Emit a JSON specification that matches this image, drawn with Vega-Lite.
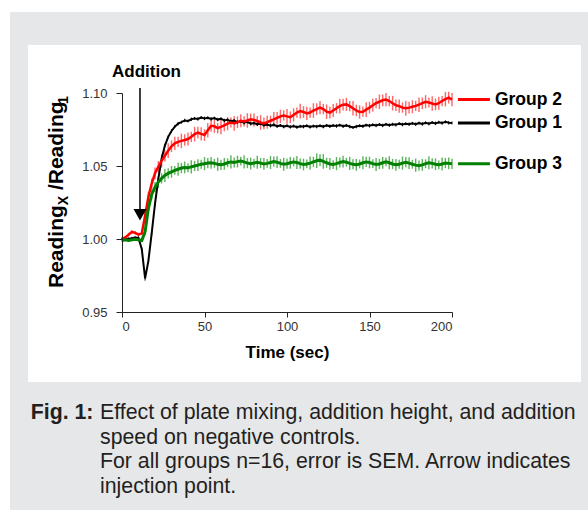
{
"$schema": "https://vega.github.io/schema/vega-lite/v6.json",
"width": 330, "height": 219, "autosize": "none",
"padding": {"left": 122, "top": 93, "right": 136, "bottom": 198},
"background": "white",
"config": {"view": {"stroke": null}, "font": "Liberation Sans"},
"datasets": {"series": [
{"t":0,"g":"Group 1","v":1.0000,"e":0.0008},{"t":2,"g":"Group 1","v":0.9998,"e":0.0010},{"t":4,"g":"Group 1","v":1.0002,"e":0.0008},{"t":6,"g":"Group 1","v":1.0005,"e":0.0010},{"t":8,"g":"Group 1","v":1.0010,"e":0.0008},{"t":10,"g":"Group 1","v":1.0008,"e":0.0010},{"t":12,"g":"Group 1","v":0.9930,"e":0.0012},{"t":14,"g":"Group 1","v":0.9730,"e":0.0015},{"t":16,"g":"Group 1","v":0.9850,"e":0.0015},{"t":18,"g":"Group 1","v":1.0040,"e":0.0015},{"t":20,"g":"Group 1","v":1.0240,"e":0.0015},{"t":22,"g":"Group 1","v":1.0410,"e":0.0012},{"t":24,"g":"Group 1","v":1.0550,"e":0.0012},{"t":26,"g":"Group 1","v":1.0640,"e":0.0012},{"t":28,"g":"Group 1","v":1.0700,"e":0.0010},{"t":30,"g":"Group 1","v":1.0740,"e":0.0012},{"t":32,"g":"Group 1","v":1.0770,"e":0.0010},{"t":34,"g":"Group 1","v":1.0790,"e":0.0012},{"t":36,"g":"Group 1","v":1.0800,"e":0.0010},{"t":38,"g":"Group 1","v":1.0812,"e":0.0012},{"t":40,"g":"Group 1","v":1.0808,"e":0.0010},{"t":42,"g":"Group 1","v":1.0820,"e":0.0012},{"t":44,"g":"Group 1","v":1.0826,"e":0.0010},{"t":46,"g":"Group 1","v":1.0822,"e":0.0012},{"t":48,"g":"Group 1","v":1.0832,"e":0.0010},{"t":50,"g":"Group 1","v":1.0826,"e":0.0012},{"t":52,"g":"Group 1","v":1.0830,"e":0.0010},{"t":54,"g":"Group 1","v":1.0822,"e":0.0012},{"t":56,"g":"Group 1","v":1.0828,"e":0.0010},{"t":58,"g":"Group 1","v":1.0818,"e":0.0012},{"t":60,"g":"Group 1","v":1.0824,"e":0.0010},{"t":62,"g":"Group 1","v":1.0812,"e":0.0012},{"t":64,"g":"Group 1","v":1.0816,"e":0.0010},{"t":66,"g":"Group 1","v":1.0806,"e":0.0012},{"t":68,"g":"Group 1","v":1.0812,"e":0.0010},{"t":70,"g":"Group 1","v":1.0800,"e":0.0012},{"t":72,"g":"Group 1","v":1.0806,"e":0.0010},{"t":74,"g":"Group 1","v":1.0796,"e":0.0012},{"t":76,"g":"Group 1","v":1.0802,"e":0.0010},{"t":78,"g":"Group 1","v":1.0790,"e":0.0012},{"t":80,"g":"Group 1","v":1.0794,"e":0.0010},{"t":82,"g":"Group 1","v":1.0786,"e":0.0012},{"t":84,"g":"Group 1","v":1.0790,"e":0.0010},{"t":86,"g":"Group 1","v":1.0780,"e":0.0012},{"t":88,"g":"Group 1","v":1.0784,"e":0.0010},{"t":90,"g":"Group 1","v":1.0776,"e":0.0012},{"t":92,"g":"Group 1","v":1.0782,"e":0.0010},{"t":94,"g":"Group 1","v":1.0772,"e":0.0012},{"t":96,"g":"Group 1","v":1.0778,"e":0.0010},{"t":98,"g":"Group 1","v":1.0770,"e":0.0012},{"t":100,"g":"Group 1","v":1.0776,"e":0.0010},{"t":102,"g":"Group 1","v":1.0768,"e":0.0012},{"t":104,"g":"Group 1","v":1.0774,"e":0.0010},{"t":106,"g":"Group 1","v":1.0766,"e":0.0012},{"t":108,"g":"Group 1","v":1.0772,"e":0.0010},{"t":110,"g":"Group 1","v":1.0770,"e":0.0012},{"t":112,"g":"Group 1","v":1.0776,"e":0.0010},{"t":114,"g":"Group 1","v":1.0768,"e":0.0012},{"t":116,"g":"Group 1","v":1.0774,"e":0.0010},{"t":118,"g":"Group 1","v":1.0770,"e":0.0012},{"t":120,"g":"Group 1","v":1.0776,"e":0.0010},{"t":122,"g":"Group 1","v":1.0770,"e":0.0012},{"t":124,"g":"Group 1","v":1.0778,"e":0.0010},{"t":126,"g":"Group 1","v":1.0772,"e":0.0012},{"t":128,"g":"Group 1","v":1.0778,"e":0.0010},{"t":130,"g":"Group 1","v":1.0774,"e":0.0012},{"t":132,"g":"Group 1","v":1.0780,"e":0.0010},{"t":134,"g":"Group 1","v":1.0772,"e":0.0012},{"t":136,"g":"Group 1","v":1.0778,"e":0.0010},{"t":138,"g":"Group 1","v":1.0770,"e":0.0012},{"t":140,"g":"Group 1","v":1.0764,"e":0.0010},{"t":142,"g":"Group 1","v":1.0770,"e":0.0012},{"t":144,"g":"Group 1","v":1.0776,"e":0.0010},{"t":146,"g":"Group 1","v":1.0772,"e":0.0012},{"t":148,"g":"Group 1","v":1.0780,"e":0.0010},{"t":150,"g":"Group 1","v":1.0776,"e":0.0012},{"t":152,"g":"Group 1","v":1.0782,"e":0.0010},{"t":154,"g":"Group 1","v":1.0778,"e":0.0012},{"t":156,"g":"Group 1","v":1.0784,"e":0.0010},{"t":158,"g":"Group 1","v":1.0778,"e":0.0012},{"t":160,"g":"Group 1","v":1.0786,"e":0.0010},{"t":162,"g":"Group 1","v":1.0780,"e":0.0012},{"t":164,"g":"Group 1","v":1.0786,"e":0.0010},{"t":166,"g":"Group 1","v":1.0782,"e":0.0012},{"t":168,"g":"Group 1","v":1.0790,"e":0.0010},{"t":170,"g":"Group 1","v":1.0784,"e":0.0012},{"t":172,"g":"Group 1","v":1.0790,"e":0.0010},{"t":174,"g":"Group 1","v":1.0786,"e":0.0012},{"t":176,"g":"Group 1","v":1.0792,"e":0.0010},{"t":178,"g":"Group 1","v":1.0786,"e":0.0012},{"t":180,"g":"Group 1","v":1.0794,"e":0.0010},{"t":182,"g":"Group 1","v":1.0788,"e":0.0012},{"t":184,"g":"Group 1","v":1.0796,"e":0.0010},{"t":186,"g":"Group 1","v":1.0790,"e":0.0012},{"t":188,"g":"Group 1","v":1.0798,"e":0.0010},{"t":190,"g":"Group 1","v":1.0792,"e":0.0012},{"t":192,"g":"Group 1","v":1.0800,"e":0.0010},{"t":194,"g":"Group 1","v":1.0794,"e":0.0012},{"t":196,"g":"Group 1","v":1.0802,"e":0.0010},{"t":198,"g":"Group 1","v":1.0796,"e":0.0012},{"t":200,"g":"Group 1","v":1.0795,"e":0.0010},
{"t":0,"g":"Group 2","v":1.0002,"e":0.0008},{"t":2,"g":"Group 2","v":1.0010,"e":0.0010},{"t":4,"g":"Group 2","v":1.0030,"e":0.0012},{"t":6,"g":"Group 2","v":1.0048,"e":0.0012},{"t":8,"g":"Group 2","v":1.0042,"e":0.0012},{"t":10,"g":"Group 2","v":1.0030,"e":0.0012},{"t":12,"g":"Group 2","v":1.0040,"e":0.0015},{"t":14,"g":"Group 2","v":1.0160,"e":0.0030},{"t":16,"g":"Group 2","v":1.0290,"e":0.0035},{"t":18,"g":"Group 2","v":1.0380,"e":0.0035},{"t":20,"g":"Group 2","v":1.0450,"e":0.0040},{"t":22,"g":"Group 2","v":1.0495,"e":0.0040},{"t":24,"g":"Group 2","v":1.0535,"e":0.0045},{"t":26,"g":"Group 2","v":1.0570,"e":0.0040},{"t":28,"g":"Group 2","v":1.0605,"e":0.0050},{"t":30,"g":"Group 2","v":1.0635,"e":0.0040},{"t":32,"g":"Group 2","v":1.0655,"e":0.0045},{"t":34,"g":"Group 2","v":1.0665,"e":0.0035},{"t":36,"g":"Group 2","v":1.0672,"e":0.0050},{"t":38,"g":"Group 2","v":1.0678,"e":0.0040},{"t":40,"g":"Group 2","v":1.0685,"e":0.0045},{"t":42,"g":"Group 2","v":1.0700,"e":0.0035},{"t":44,"g":"Group 2","v":1.0718,"e":0.0050},{"t":46,"g":"Group 2","v":1.0728,"e":0.0040},{"t":48,"g":"Group 2","v":1.0720,"e":0.0045},{"t":50,"g":"Group 2","v":1.0712,"e":0.0040},{"t":52,"g":"Group 2","v":1.0745,"e":0.0050},{"t":54,"g":"Group 2","v":1.0775,"e":0.0040},{"t":56,"g":"Group 2","v":1.0772,"e":0.0045},{"t":58,"g":"Group 2","v":1.0760,"e":0.0035},{"t":60,"g":"Group 2","v":1.0768,"e":0.0050},{"t":62,"g":"Group 2","v":1.0778,"e":0.0040},{"t":64,"g":"Group 2","v":1.0790,"e":0.0045},{"t":66,"g":"Group 2","v":1.0798,"e":0.0035},{"t":68,"g":"Group 2","v":1.0792,"e":0.0050},{"t":70,"g":"Group 2","v":1.0800,"e":0.0040},{"t":72,"g":"Group 2","v":1.0810,"e":0.0045},{"t":74,"g":"Group 2","v":1.0805,"e":0.0035},{"t":76,"g":"Group 2","v":1.0812,"e":0.0050},{"t":78,"g":"Group 2","v":1.0820,"e":0.0040},{"t":80,"g":"Group 2","v":1.0815,"e":0.0045},{"t":82,"g":"Group 2","v":1.0808,"e":0.0035},{"t":84,"g":"Group 2","v":1.0798,"e":0.0050},{"t":86,"g":"Group 2","v":1.0792,"e":0.0040},{"t":88,"g":"Group 2","v":1.0800,"e":0.0045},{"t":90,"g":"Group 2","v":1.0810,"e":0.0035},{"t":92,"g":"Group 2","v":1.0820,"e":0.0050},{"t":94,"g":"Group 2","v":1.0830,"e":0.0040},{"t":96,"g":"Group 2","v":1.0840,"e":0.0045},{"t":98,"g":"Group 2","v":1.0846,"e":0.0035},{"t":100,"g":"Group 2","v":1.0840,"e":0.0050},{"t":102,"g":"Group 2","v":1.0834,"e":0.0040},{"t":104,"g":"Group 2","v":1.0850,"e":0.0045},{"t":106,"g":"Group 2","v":1.0866,"e":0.0035},{"t":108,"g":"Group 2","v":1.0876,"e":0.0050},{"t":110,"g":"Group 2","v":1.0870,"e":0.0040},{"t":112,"g":"Group 2","v":1.0860,"e":0.0045},{"t":114,"g":"Group 2","v":1.0866,"e":0.0035},{"t":116,"g":"Group 2","v":1.0880,"e":0.0050},{"t":118,"g":"Group 2","v":1.0890,"e":0.0040},{"t":120,"g":"Group 2","v":1.0900,"e":0.0045},{"t":122,"g":"Group 2","v":1.0890,"e":0.0035},{"t":124,"g":"Group 2","v":1.0872,"e":0.0050},{"t":126,"g":"Group 2","v":1.0866,"e":0.0040},{"t":128,"g":"Group 2","v":1.0880,"e":0.0045},{"t":130,"g":"Group 2","v":1.0896,"e":0.0035},{"t":132,"g":"Group 2","v":1.0910,"e":0.0050},{"t":134,"g":"Group 2","v":1.0920,"e":0.0040},{"t":136,"g":"Group 2","v":1.0922,"e":0.0045},{"t":138,"g":"Group 2","v":1.0910,"e":0.0035},{"t":140,"g":"Group 2","v":1.0896,"e":0.0050},{"t":142,"g":"Group 2","v":1.0880,"e":0.0040},{"t":144,"g":"Group 2","v":1.0870,"e":0.0045},{"t":146,"g":"Group 2","v":1.0872,"e":0.0035},{"t":148,"g":"Group 2","v":1.0886,"e":0.0050},{"t":150,"g":"Group 2","v":1.0900,"e":0.0040},{"t":152,"g":"Group 2","v":1.0916,"e":0.0045},{"t":154,"g":"Group 2","v":1.0930,"e":0.0035},{"t":156,"g":"Group 2","v":1.0940,"e":0.0050},{"t":158,"g":"Group 2","v":1.0950,"e":0.0040},{"t":160,"g":"Group 2","v":1.0955,"e":0.0045},{"t":162,"g":"Group 2","v":1.0945,"e":0.0035},{"t":164,"g":"Group 2","v":1.0930,"e":0.0050},{"t":166,"g":"Group 2","v":1.0916,"e":0.0040},{"t":168,"g":"Group 2","v":1.0910,"e":0.0045},{"t":170,"g":"Group 2","v":1.0900,"e":0.0035},{"t":172,"g":"Group 2","v":1.0895,"e":0.0050},{"t":174,"g":"Group 2","v":1.0900,"e":0.0040},{"t":176,"g":"Group 2","v":1.0906,"e":0.0045},{"t":178,"g":"Group 2","v":1.0912,"e":0.0035},{"t":180,"g":"Group 2","v":1.0920,"e":0.0050},{"t":182,"g":"Group 2","v":1.0930,"e":0.0040},{"t":184,"g":"Group 2","v":1.0940,"e":0.0045},{"t":186,"g":"Group 2","v":1.0935,"e":0.0035},{"t":188,"g":"Group 2","v":1.0928,"e":0.0050},{"t":190,"g":"Group 2","v":1.0922,"e":0.0040},{"t":192,"g":"Group 2","v":1.0930,"e":0.0045},{"t":194,"g":"Group 2","v":1.0945,"e":0.0035},{"t":196,"g":"Group 2","v":1.0958,"e":0.0050},{"t":198,"g":"Group 2","v":1.0968,"e":0.0040},{"t":200,"g":"Group 2","v":1.0955,"e":0.0045},
{"t":0,"g":"Group 3","v":0.9990,"e":0.0008},{"t":2,"g":"Group 3","v":0.9994,"e":0.0008},{"t":4,"g":"Group 3","v":0.9990,"e":0.0010},{"t":6,"g":"Group 3","v":0.9994,"e":0.0010},{"t":8,"g":"Group 3","v":0.9998,"e":0.0010},{"t":10,"g":"Group 3","v":0.9994,"e":0.0010},{"t":12,"g":"Group 3","v":0.9990,"e":0.0012},{"t":14,"g":"Group 3","v":1.0050,"e":0.0025},{"t":16,"g":"Group 3","v":1.0210,"e":0.0030},{"t":18,"g":"Group 3","v":1.0305,"e":0.0035},{"t":20,"g":"Group 3","v":1.0355,"e":0.0035},{"t":22,"g":"Group 3","v":1.0390,"e":0.0040},{"t":24,"g":"Group 3","v":1.0415,"e":0.0035},{"t":26,"g":"Group 3","v":1.0435,"e":0.0045},{"t":28,"g":"Group 3","v":1.0450,"e":0.0035},{"t":30,"g":"Group 3","v":1.0460,"e":0.0040},{"t":32,"g":"Group 3","v":1.0470,"e":0.0030},{"t":34,"g":"Group 3","v":1.0478,"e":0.0045},{"t":36,"g":"Group 3","v":1.0486,"e":0.0035},{"t":38,"g":"Group 3","v":1.0490,"e":0.0040},{"t":40,"g":"Group 3","v":1.0488,"e":0.0030},{"t":42,"g":"Group 3","v":1.0494,"e":0.0045},{"t":44,"g":"Group 3","v":1.0500,"e":0.0035},{"t":46,"g":"Group 3","v":1.0506,"e":0.0040},{"t":48,"g":"Group 3","v":1.0512,"e":0.0030},{"t":50,"g":"Group 3","v":1.0516,"e":0.0045},{"t":52,"g":"Group 3","v":1.0520,"e":0.0035},{"t":54,"g":"Group 3","v":1.0522,"e":0.0040},{"t":56,"g":"Group 3","v":1.0518,"e":0.0030},{"t":58,"g":"Group 3","v":1.0512,"e":0.0045},{"t":60,"g":"Group 3","v":1.0508,"e":0.0035},{"t":62,"g":"Group 3","v":1.0514,"e":0.0040},{"t":64,"g":"Group 3","v":1.0522,"e":0.0030},{"t":66,"g":"Group 3","v":1.0528,"e":0.0045},{"t":68,"g":"Group 3","v":1.0524,"e":0.0035},{"t":70,"g":"Group 3","v":1.0530,"e":0.0040},{"t":72,"g":"Group 3","v":1.0534,"e":0.0030},{"t":74,"g":"Group 3","v":1.0528,"e":0.0045},{"t":76,"g":"Group 3","v":1.0520,"e":0.0035},{"t":78,"g":"Group 3","v":1.0516,"e":0.0040},{"t":80,"g":"Group 3","v":1.0520,"e":0.0030},{"t":82,"g":"Group 3","v":1.0526,"e":0.0045},{"t":84,"g":"Group 3","v":1.0520,"e":0.0035},{"t":86,"g":"Group 3","v":1.0514,"e":0.0040},{"t":88,"g":"Group 3","v":1.0518,"e":0.0030},{"t":90,"g":"Group 3","v":1.0524,"e":0.0045},{"t":92,"g":"Group 3","v":1.0530,"e":0.0035},{"t":94,"g":"Group 3","v":1.0526,"e":0.0040},{"t":96,"g":"Group 3","v":1.0518,"e":0.0030},{"t":98,"g":"Group 3","v":1.0512,"e":0.0045},{"t":100,"g":"Group 3","v":1.0516,"e":0.0035},{"t":102,"g":"Group 3","v":1.0522,"e":0.0040},{"t":104,"g":"Group 3","v":1.0528,"e":0.0030},{"t":106,"g":"Group 3","v":1.0524,"e":0.0045},{"t":108,"g":"Group 3","v":1.0516,"e":0.0035},{"t":110,"g":"Group 3","v":1.0510,"e":0.0040},{"t":112,"g":"Group 3","v":1.0514,"e":0.0030},{"t":114,"g":"Group 3","v":1.0520,"e":0.0045},{"t":116,"g":"Group 3","v":1.0528,"e":0.0035},{"t":118,"g":"Group 3","v":1.0536,"e":0.0050},{"t":120,"g":"Group 3","v":1.0540,"e":0.0040},{"t":122,"g":"Group 3","v":1.0532,"e":0.0050},{"t":124,"g":"Group 3","v":1.0522,"e":0.0035},{"t":126,"g":"Group 3","v":1.0514,"e":0.0040},{"t":128,"g":"Group 3","v":1.0510,"e":0.0030},{"t":130,"g":"Group 3","v":1.0516,"e":0.0045},{"t":132,"g":"Group 3","v":1.0524,"e":0.0035},{"t":134,"g":"Group 3","v":1.0530,"e":0.0040},{"t":136,"g":"Group 3","v":1.0526,"e":0.0030},{"t":138,"g":"Group 3","v":1.0518,"e":0.0045},{"t":140,"g":"Group 3","v":1.0512,"e":0.0035},{"t":142,"g":"Group 3","v":1.0508,"e":0.0040},{"t":144,"g":"Group 3","v":1.0514,"e":0.0030},{"t":146,"g":"Group 3","v":1.0522,"e":0.0045},{"t":148,"g":"Group 3","v":1.0528,"e":0.0035},{"t":150,"g":"Group 3","v":1.0524,"e":0.0040},{"t":152,"g":"Group 3","v":1.0516,"e":0.0030},{"t":154,"g":"Group 3","v":1.0510,"e":0.0045},{"t":156,"g":"Group 3","v":1.0514,"e":0.0035},{"t":158,"g":"Group 3","v":1.0522,"e":0.0040},{"t":160,"g":"Group 3","v":1.0528,"e":0.0030},{"t":162,"g":"Group 3","v":1.0522,"e":0.0045},{"t":164,"g":"Group 3","v":1.0514,"e":0.0035},{"t":166,"g":"Group 3","v":1.0508,"e":0.0040},{"t":168,"g":"Group 3","v":1.0512,"e":0.0030},{"t":170,"g":"Group 3","v":1.0520,"e":0.0045},{"t":172,"g":"Group 3","v":1.0526,"e":0.0035},{"t":174,"g":"Group 3","v":1.0520,"e":0.0040},{"t":176,"g":"Group 3","v":1.0512,"e":0.0030},{"t":178,"g":"Group 3","v":1.0506,"e":0.0045},{"t":180,"g":"Group 3","v":1.0502,"e":0.0035},{"t":182,"g":"Group 3","v":1.0508,"e":0.0040},{"t":184,"g":"Group 3","v":1.0516,"e":0.0030},{"t":186,"g":"Group 3","v":1.0522,"e":0.0045},{"t":188,"g":"Group 3","v":1.0518,"e":0.0035},{"t":190,"g":"Group 3","v":1.0512,"e":0.0040},{"t":192,"g":"Group 3","v":1.0508,"e":0.0030},{"t":194,"g":"Group 3","v":1.0514,"e":0.0045},{"t":196,"g":"Group 3","v":1.0520,"e":0.0035},{"t":198,"g":"Group 3","v":1.0518,"e":0.0040},{"t":200,"g":"Group 3","v":1.0515,"e":0.0035}
]},
"layer": [
{"data": {"values": [{}]},
 "mark": {"type": "rect", "color": "#e6e7e9"},
 "encoding": {"x": {"datum": -67.9, "type": "quantitative", "scale": {"domain": [0, 200], "nice": false, "zero": false}},
  "x2": {"datum": 300}, "y": {"datum": 1.1555, "type": "quantitative", "scale": {"domain": [0.95, 1.10], "nice": false, "zero": false}}, "y2": {"datum": 0.79}}},
{"data": {"values": [{}]},
 "mark": {"type": "rect", "color": "#ffffff"},
 "encoding": {"x": {"datum": -56.97, "type": "quantitative"}, "x2": {"datum": 278.18},
  "y": {"datum": 1.13288, "type": "quantitative"}, "y2": {"datum": 0.90205}}},
{"data": {"name": "series"}, "transform": [{"filter": "datum.g == 'Group 3'"}],
 "mark": {"type": "errorbar", "rule": {"stroke": "#5cb35c", "strokeWidth": 1.4}},
 "encoding": {"x": {"field": "t", "type": "quantitative"}, "y": {"field": "v", "type": "quantitative"}, "yError": {"field": "e"}}},
{"data": {"name": "series"}, "transform": [{"filter": "datum.g == 'Group 2'"}],
 "mark": {"type": "errorbar", "rule": {"stroke": "#ff6666", "strokeWidth": 1.4}},
 "encoding": {"x": {"field": "t", "type": "quantitative"}, "y": {"field": "v", "type": "quantitative"}, "yError": {"field": "e"}}},
{"data": {"name": "series"}, "transform": [{"filter": "datum.g == 'Group 1'"}],
 "mark": {"type": "errorbar", "rule": {"stroke": "#000000", "strokeWidth": 1}},
 "encoding": {"x": {"field": "t", "type": "quantitative"}, "y": {"field": "v", "type": "quantitative"}, "yError": {"field": "e"}}},
{"data": {"name": "series"},
 "mark": {"type": "line"},
 "encoding": {
  "x": {"field": "t", "type": "quantitative", "title": "Time (sec)",
   "axis": {"zindex": 2, "values": [0, 50, 100, 150, 200], "format": "d", "grid": false, "tickSize": 5, "labelPadding": 3, "labelFontSize": 13, "labelColor": "#333333", "labelFont": "Liberation Sans", "domainColor": "#222222", "tickColor": "#222222", "titleFontSize": 17, "titleFontWeight": "bold", "titleColor": "#000000", "titlePadding": 11}},
  "y": {"field": "v", "type": "quantitative", "title": null,
   "axis": {"zindex": 2, "values": [0.95, 0.975, 1.0, 1.025, 1.05, 1.075, 1.1], "labelExpr": "(round(datum.value*1000) % 50 == 0) ? format(datum.value, '.2f') : ''", "grid": false, "tickSize": 6, "labelPadding": 9, "labelFontSize": 13, "labelColor": "#333333", "labelFont": "Liberation Sans", "domainColor": "#222222", "tickColor": "#222222"}},
  "color": {"field": "g", "type": "nominal", "scale": {"domain": ["Group 1", "Group 2", "Group 3"], "range": ["#000000", "#ff0000", "#008000"]}, "legend": null},
  "strokeWidth": {"field": "g", "type": "nominal", "scale": {"domain": ["Group 1", "Group 2", "Group 3"], "range": [2, 3, 3]}, "legend": null}
 }},
{"data": {"name": "series"}, "transform": [{"filter": "datum.t == 200"}],
 "mark": {"type": "rule", "strokeWidth": 3},
 "encoding": {"x": {"datum": 203.6, "type": "quantitative"}, "x2": {"datum": 223},
  "y": {"field": "v", "type": "quantitative"},
  "color": {"field": "g", "type": "nominal", "scale": {"domain": ["Group 1", "Group 2", "Group 3"], "range": ["#000000", "#ff0000", "#008000"]}, "legend": null}}},
{"data": {"name": "series"}, "transform": [{"filter": "datum.t == 200"}],
 "mark": {"type": "text", "align": "left", "baseline": "middle", "fontSize": 17.5, "fontWeight": "bold", "color": "#000000"},
 "encoding": {"x": {"datum": 226, "type": "quantitative"}, "y": {"field": "v", "type": "quantitative"}, "text": {"field": "g"}}},
{"data": {"values": [{}]},
 "mark": {"type": "rule", "strokeWidth": 1.5, "color": "#000000"},
 "encoding": {"x": {"datum": 10.9, "type": "quantitative"}, "y": {"datum": 1.1034, "type": "quantitative"}, "y2": {"datum": 1.019}}},
{"data": {"values": [{}]},
 "mark": {"type": "point", "shape": "triangle-down", "size": 170, "filled": true, "color": "#000000", "opacity": 1},
 "encoding": {"x": {"datum": 10.9, "type": "quantitative"}, "y": {"datum": 1.0166, "type": "quantitative"}}},
{"data": {"values": [{}]},
 "mark": {"type": "text", "text": "Addition", "align": "center", "baseline": "alphabetic", "fontSize": 17, "fontWeight": "bold", "color": "#000000"},
 "encoding": {"x": {"datum": 14.85, "type": "quantitative"}, "y": {"datum": 1.1112, "type": "quantitative"}}},
{"data": {"values": [{}]},
 "mark": {"type": "text", "text": "Reading", "angle": 270, "align": "left", "baseline": "alphabetic", "fontSize": 21, "fontWeight": "bold", "color": "#000000"},
 "encoding": {"x": {"datum": -35.8, "type": "quantitative"}, "y": {"datum": 0.96644, "type": "quantitative"}}},
{"data": {"values": [{}]},
 "mark": {"type": "text", "text": "X", "angle": 270, "align": "left", "baseline": "alphabetic", "fontSize": 14, "fontWeight": "bold", "color": "#000000"},
 "encoding": {"x": {"datum": -32.7, "type": "quantitative"}, "y": {"datum": 1.02315, "type": "quantitative"}}},
{"data": {"values": [{}]},
 "mark": {"type": "text", "text": "/Reading", "angle": 270, "align": "left", "baseline": "alphabetic", "fontSize": 21, "fontWeight": "bold", "color": "#000000"},
 "encoding": {"x": {"datum": -35.8, "type": "quantitative"}, "y": {"datum": 1.0335, "type": "quantitative"}}},
{"data": {"values": [{}]},
 "mark": {"type": "text", "text": "1", "angle": 270, "align": "left", "baseline": "alphabetic", "fontSize": 14, "fontWeight": "bold", "color": "#000000"},
 "encoding": {"x": {"datum": -32.7, "type": "quantitative"}, "y": {"datum": 1.0925, "type": "quantitative"}}},
{"data": {"values": [{}]},
 "mark": {"type": "text", "text": "Fig. 1:", "align": "left", "baseline": "alphabetic", "fontSize": 21.3, "fontWeight": "bold", "color": "#231f20"},
 "encoding": {"x": {"datum": -55.33, "type": "quantitative"}, "y": {"datum": 0.87651, "type": "quantitative"}}},
{"data": {"values": [{}]},
 "mark": {"type": "text", "text": "Effect of plate mixing, addition height, and addition\nspeed on negative controls.\nFor all groups n=16, error is SEM. Arrow indicates\ninjection point.", "lineBreak": "\n", "lineHeight": 24.5, "align": "left", "baseline": "alphabetic", "fontSize": 21.3, "color": "#231f20"},
 "encoding": {"x": {"datum": -13.33, "type": "quantitative"}, "y": {"datum": 0.87651, "type": "quantitative"}}}
]
}
